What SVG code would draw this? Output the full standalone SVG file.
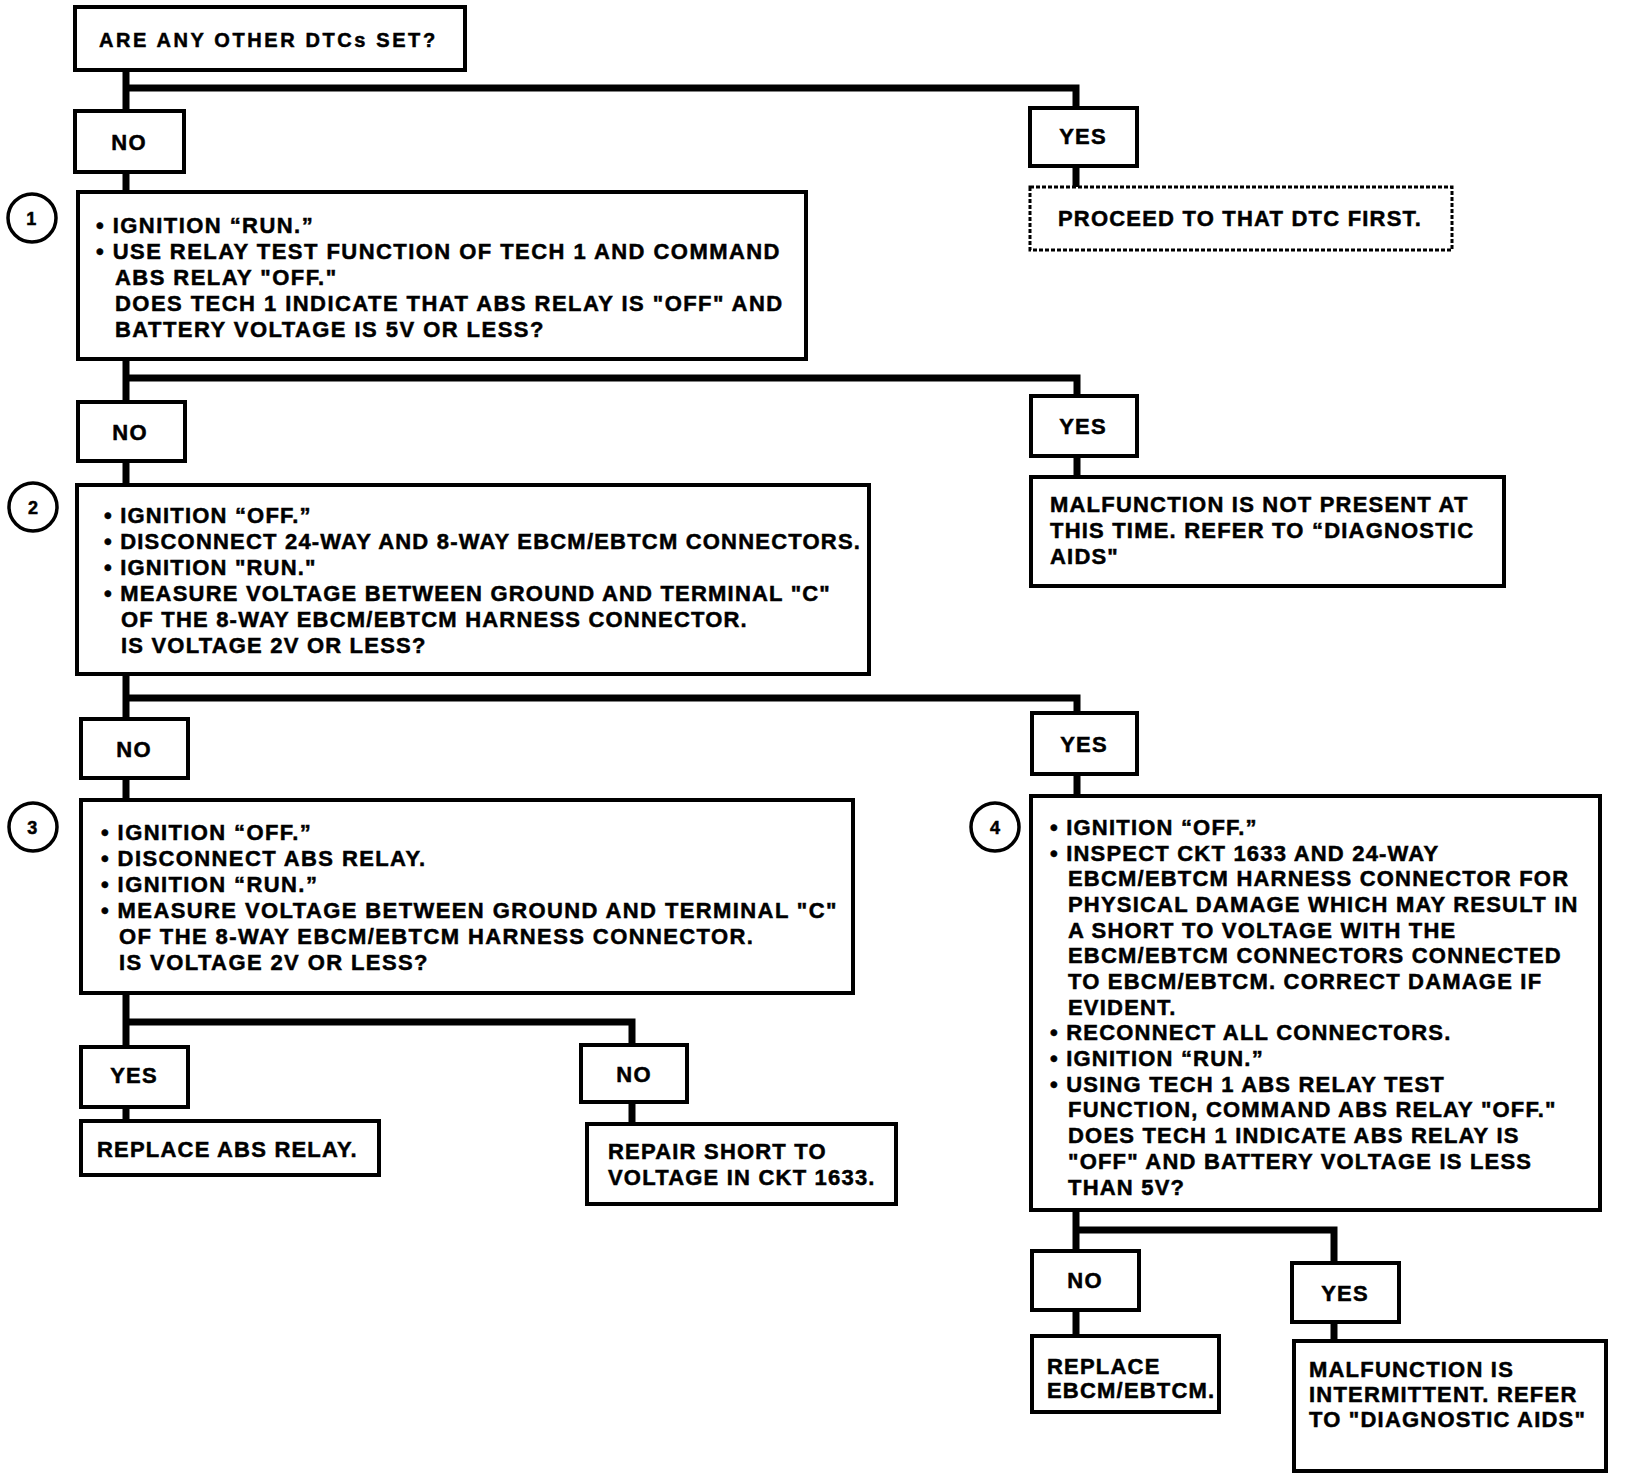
<svg xmlns="http://www.w3.org/2000/svg" width="1632" height="1480" viewBox="0 0 1632 1480">
<style>
.bg{fill:#fff}
.box{fill:#fff;stroke:#000;stroke-width:4}
.dash{fill:#fff;stroke:#000;stroke-width:3;stroke-dasharray:4 2}
.conn{fill:none;stroke:#000;stroke-width:7;stroke-linejoin:miter}
.circ{fill:#fff;stroke:#000;stroke-width:3.5}
text{font-family:"Liberation Sans",Arial,sans-serif;font-weight:bold;font-size:22px;letter-spacing:1.2px;fill:#000;stroke:#000;stroke-width:0.5}
.lbl{text-anchor:middle}
.num{font-size:18px;text-anchor:middle;letter-spacing:0}
.top{font-size:20px;letter-spacing:2.6px}
.s1 text{letter-spacing:1.45px}
.s3 text{letter-spacing:1.4px}
</style>
<rect class="bg" x="0" y="0" width="1632" height="1480"/>
<g id="connectors">
<path class="conn" d="M126 70 V111"/>
<path class="conn" d="M126 88 H1076 V108"/>
<path class="conn" d="M126 172 V192"/>
<path class="conn" d="M1076 166 V187"/>
<path class="conn" d="M126 359 V402"/>
<path class="conn" d="M126 378 H1077 V396"/>
<path class="conn" d="M126 461 V485"/>
<path class="conn" d="M1077 456 V477"/>
<path class="conn" d="M126 674 V719"/>
<path class="conn" d="M126 698 H1077 V713"/>
<path class="conn" d="M126 778 V800"/>
<path class="conn" d="M1077 774 V796"/>
<path class="conn" d="M126 993 V1047"/>
<path class="conn" d="M126 1022 H632 V1045"/>
<path class="conn" d="M126 1107 V1121"/>
<path class="conn" d="M632 1102 V1124"/>
<path class="conn" d="M1076 1210 V1251"/>
<path class="conn" d="M1076 1230 H1334 V1263"/>
<path class="conn" d="M1076 1310 V1336"/>
<path class="conn" d="M1334 1322 V1341"/>
</g>
<g id="q0">
<rect class="box" x="75" y="7" width="390" height="63"/>
<text class="top" x="99" y="47">ARE ANY OTHER DTCs SET?</text>
</g>
<g id="no1"><rect class="box" x="75" y="111" width="109" height="61"/><text class="lbl" x="129" y="150">NO</text></g>
<g id="yes1"><rect class="box" x="1030" y="108" width="107" height="58"/><text class="lbl" x="1083" y="144">YES</text></g>
<g id="proceed">
<rect class="dash" x="1030" y="187" width="422" height="63"/>
<text x="1058" y="226">PROCEED TO THAT DTC FIRST.</text>
</g>
<g id="step1" class="s1">
<circle class="circ" cx="32" cy="218" r="24"/><text class="num" x="32" y="225">1</text>
<rect class="box" x="78" y="192" width="728" height="167"/>
<text x="96" y="233">• IGNITION “RUN.”</text>
<text x="96" y="259">• USE RELAY TEST FUNCTION OF TECH 1 AND COMMAND</text>
<text x="115" y="285">ABS RELAY "OFF."</text>
<text x="115" y="311">DOES TECH 1 INDICATE THAT ABS RELAY IS "OFF" AND</text>
<text x="115" y="337">BATTERY VOLTAGE IS 5V OR LESS?</text>
</g>
<g id="no2"><rect class="box" x="78" y="402" width="107" height="59"/><text class="lbl" x="130" y="440">NO</text></g>
<g id="yes2"><rect class="box" x="1031" y="396" width="106" height="60"/><text class="lbl" x="1083" y="434">YES</text></g>
<g id="notpresent">
<rect class="box" x="1031" y="477" width="473" height="109"/>
<text x="1050" y="512">MALFUNCTION IS NOT PRESENT AT</text>
<text x="1050" y="538">THIS TIME. REFER TO “DIAGNOSTIC</text>
<text x="1050" y="564">AIDS"</text>
</g>
<g id="step2">
<circle class="circ" cx="33" cy="507" r="24"/><text class="num" x="33" y="514">2</text>
<rect class="box" x="77" y="485" width="792" height="189"/>
<text x="104" y="523">• IGNITION “OFF.”</text>
<text x="104" y="549">• DISCONNECT 24-WAY AND 8-WAY EBCM/EBTCM CONNECTORS.</text>
<text x="104" y="575">• IGNITION "RUN."</text>
<text x="104" y="601">• MEASURE VOLTAGE BETWEEN GROUND AND TERMINAL "C"</text>
<text x="121" y="627">OF THE 8-WAY EBCM/EBTCM HARNESS CONNECTOR.</text>
<text x="121" y="653">IS VOLTAGE 2V OR LESS?</text>
</g>
<g id="no3"><rect class="box" x="81" y="719" width="107" height="59"/><text class="lbl" x="134" y="757">NO</text></g>
<g id="yes3"><rect class="box" x="1032" y="713" width="105" height="61"/><text class="lbl" x="1084" y="752">YES</text></g>
<g id="step3" class="s3">
<circle class="circ" cx="33" cy="827" r="24"/><text class="num" x="33" y="834">3</text>
<rect class="box" x="81" y="800" width="772" height="193"/>
<text x="101" y="840">• IGNITION “OFF.”</text>
<text x="101" y="866">• DISCONNECT ABS RELAY.</text>
<text x="101" y="892">• IGNITION “RUN.”</text>
<text x="101" y="918">• MEASURE VOLTAGE BETWEEN GROUND AND TERMINAL "C"</text>
<text x="119" y="944">OF THE 8-WAY EBCM/EBTCM HARNESS CONNECTOR.</text>
<text x="119" y="970">IS VOLTAGE 2V OR LESS?</text>
</g>
<g id="step4">
<circle class="circ" cx="995" cy="827" r="24"/><text class="num" x="995" y="834">4</text>
<rect class="box" x="1031" y="796" width="569" height="414"/>
<text x="1050" y="835">• IGNITION “OFF.”</text>
<text x="1050" y="861">• INSPECT CKT 1633 AND 24-WAY</text>
<text x="1068" y="886">EBCM/EBTCM HARNESS CONNECTOR FOR</text>
<text x="1068" y="912">PHYSICAL DAMAGE WHICH MAY RESULT IN</text>
<text x="1068" y="938">A SHORT TO VOLTAGE WITH THE</text>
<text x="1068" y="963">EBCM/EBTCM CONNECTORS CONNECTED</text>
<text x="1068" y="989">TO EBCM/EBTCM. CORRECT DAMAGE IF</text>
<text x="1068" y="1015">EVIDENT.</text>
<text x="1050" y="1040">• RECONNECT ALL CONNECTORS.</text>
<text x="1050" y="1066">• IGNITION “RUN.”</text>
<text x="1050" y="1092">• USING TECH 1 ABS RELAY TEST</text>
<text x="1068" y="1117">FUNCTION, COMMAND ABS RELAY "OFF."</text>
<text x="1068" y="1143">DOES TECH 1 INDICATE ABS RELAY IS</text>
<text x="1068" y="1169">"OFF" AND BATTERY VOLTAGE IS LESS</text>
<text x="1068" y="1195">THAN 5V?</text>
</g>
<g id="yes4"><rect class="box" x="81" y="1047" width="107" height="60"/><text class="lbl" x="134" y="1083">YES</text></g>
<g id="no4"><rect class="box" x="581" y="1045" width="106" height="57"/><text class="lbl" x="634" y="1082">NO</text></g>
<g id="replacerelay">
<rect class="box" x="81" y="1121" width="298" height="54"/>
<text x="97" y="1157">REPLACE ABS RELAY.</text>
</g>
<g id="repairshort">
<rect class="box" x="587" y="1124" width="309" height="80"/>
<text x="608" y="1159">REPAIR SHORT TO</text>
<text x="608" y="1185">VOLTAGE IN CKT 1633.</text>
</g>
<g id="no5"><rect class="box" x="1032" y="1251" width="107" height="59"/><text class="lbl" x="1085" y="1288">NO</text></g>
<g id="yes5"><rect class="box" x="1292" y="1263" width="107" height="59"/><text class="lbl" x="1345" y="1301">YES</text></g>
<g id="replaceebcm">
<rect class="box" x="1032" y="1336" width="187" height="76"/>
<text x="1047" y="1374">REPLACE</text>
<text x="1047" y="1398">EBCM/EBTCM.</text>
</g>
<g id="intermittent">
<rect class="box" x="1294" y="1341" width="312" height="130"/>
<text x="1309" y="1377">MALFUNCTION IS</text>
<text x="1309" y="1402">INTERMITTENT. REFER</text>
<text x="1309" y="1427">TO "DIAGNOSTIC AIDS"</text>
</g>
</svg>
